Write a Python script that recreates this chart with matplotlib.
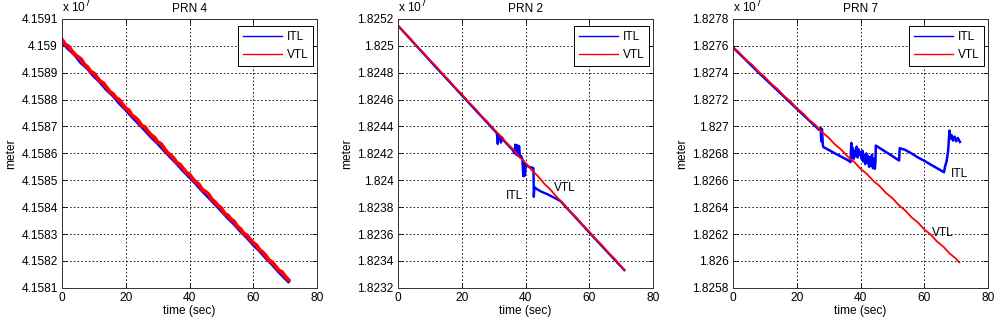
import numpy as np
import matplotlib
matplotlib.use("Agg")
import matplotlib.pyplot as plt
from matplotlib.ticker import FixedLocator, FuncFormatter

plt.rcParams['font.family'] = ['Liberation Sans', 'DejaVu Sans']
FS = 8.6

# ---- PRN 4 (values in units of 1e7 m) ----
prn4_vtl_t = list(range(72))
prn4_vtl = [4.159023, 4.159005, 4.158999, 4.158982, 4.158967, 4.158959, 4.158950, 4.158931,
            4.158921, 4.158903, 4.158898, 4.158882, 4.158868, 4.158861, 4.158845, 4.158829,
            4.158821, 4.158806, 4.158799, 4.158782, 4.158767, 4.158760, 4.158740, 4.158733,
            4.158721, 4.158703, 4.158698, 4.158681, 4.158668, 4.158659, 4.158642, 4.158636,
            4.158620, 4.158603, 4.158594, 4.158583, 4.158565, 4.158559, 4.158544, 4.158529,
            4.158522, 4.158505, 4.158493, 4.158484, 4.158465, 4.158458, 4.158448, 4.158429,
            4.158419, 4.158405, 4.158396, 4.158376, 4.158370, 4.158355, 4.158347, 4.158328,
            4.158319, 4.158302, 4.158296, 4.158280, 4.158267, 4.158259, 4.158241, 4.158232,
            4.158219, 4.158202, 4.158195, 4.158180, 4.158165, 4.158159, 4.158143, 4.158130]
prn4_itl_t = [0, 2, 4, 6, 8, 10, 12, 14, 16, 18, 20, 22, 24, 26, 28, 30, 32, 34, 36, 38,
              40, 42, 44, 46, 48, 50, 52, 54, 56, 58, 60, 62, 64, 66, 68, 70, 71]
prn4_itl = [4.159016, 4.158990, 4.158968, 4.158938, 4.158917, 4.158889, 4.158866, 4.158838,
            4.158816, 4.158788, 4.158764, 4.158737, 4.158713, 4.158688, 4.158662, 4.158639,
            4.158613, 4.158588, 4.158564, 4.158537, 4.158513, 4.158489, 4.158462, 4.158438,
            4.158413, 4.158388, 4.158362, 4.158339, 4.158312, 4.158289, 4.158262, 4.158239,
            4.158212, 4.158188, 4.158161, 4.158137, 4.158125]

# ---- PRN 2 ----
prn2_vtl_t = [0, 2, 4, 6, 8, 10, 12, 14, 16, 18, 20, 22, 24, 26, 28, 30, 32, 34, 36, 38,
              40, 42, 44, 46, 48, 50, 52, 54, 56, 58, 60, 62, 64, 66, 68, 70, 71]
prn2_vtl = [1.825152, 1.825097, 1.825051, 1.824994, 1.824948, 1.824893, 1.824846, 1.824790,
            1.824744, 1.824687, 1.824641, 1.824585, 1.824539, 1.824483, 1.824437, 1.824381,
            1.824335, 1.824279, 1.824233, 1.824176, 1.824130, 1.824074, 1.824028, 1.823972,
            1.823926, 1.823870, 1.823824, 1.823768, 1.823722, 1.823665, 1.823619, 1.823563,
            1.823517, 1.823461, 1.823415, 1.823359, 1.823336]
prn2_itl_t = [0, 4, 8, 12, 16, 20, 24, 28, 31.0, 31.3, 31.5, 32, 32.3, 32.6, 33, 34, 35, 36,
              36.5, 36.8, 37.1, 37.4, 37.7, 38.0, 38.3, 38.6, 39.0, 39.3, 39.5, 39.8, 40.1,
              41, 42, 42.5, 42.6, 42.8, 43.5, 45, 47, 49, 51, 52, 56, 60, 64, 68, 71]
prn2_itl = [1.825150, 1.825046, 1.824942, 1.824838, 1.824736, 1.824633, 1.824530, 1.824428,
            1.824350, 1.824270, 1.824340, 1.824318, 1.824280, 1.824320, 1.824300, 1.824275,
            1.824250, 1.824225, 1.824200, 1.824265, 1.824190, 1.824262, 1.824180, 1.824255,
            1.824170, 1.824180, 1.824160, 1.824030, 1.824140, 1.824035, 1.824120, 1.824100,
            1.824095, 1.824090, 1.823877, 1.823950, 1.823935, 1.823915, 1.823895, 1.823870,
            1.823845, 1.823818, 1.823716, 1.823612, 1.823510, 1.823408, 1.823332]

# ---- PRN 7 ----
prn7_vtl_t = [0, 2, 4, 6, 8, 10, 12, 14, 16, 18, 20, 22, 24, 26, 28, 30, 32, 34, 36, 38,
              40, 42, 44, 46, 48, 50, 52, 54, 56, 58, 60, 62, 64, 66, 68, 70, 71]
prn7_vtl = [1.827590, 1.827548, 1.827497, 1.827458, 1.827407, 1.827368, 1.827317, 1.827278,
            1.827227, 1.827187, 1.827136, 1.827097, 1.827046, 1.827007, 1.826956, 1.826917,
            1.826866, 1.826827, 1.826776, 1.826737, 1.826686, 1.826647, 1.826596, 1.826557,
            1.826506, 1.826467, 1.826416, 1.826376, 1.826325, 1.826286, 1.826235, 1.826196,
            1.826145, 1.826106, 1.826055, 1.826016, 1.825990]
prn7_itl_t = [0, 4, 8, 12, 16, 20, 24, 26, 27.0, 27.5, 27.7, 27.9, 28.2, 28.4, 30, 32, 34,
              36, 36.9, 37.1, 37.3, 37.6, 37.9, 38.2, 38.5, 38.8, 39.1, 39.4, 39.7, 40.0,
              40.3, 40.6, 40.9, 41.2, 41.5, 41.8, 42.1, 42.4, 42.7, 43.0, 43.3, 43.6, 43.9,
              44.2, 44.5, 44.7, 44.8, 46, 48, 50, 52.1, 52.3, 54, 56, 58, 60, 62, 64, 66.2,
              66.5, 67.0, 67.5, 67.9, 68.2, 68.6, 69.0, 69.5, 70.0, 70.5, 71.2]
prn7_itl = [1.827588, 1.827495, 1.827402, 1.827312, 1.827222, 1.827132, 1.827042, 1.826998,
            1.826975, 1.826990, 1.826890, 1.826980, 1.826860, 1.826846, 1.826826, 1.826800,
            1.826775, 1.826750, 1.826735, 1.826878, 1.826770, 1.826840, 1.826760, 1.826820,
            1.826780, 1.826850, 1.826770, 1.826830, 1.826790, 1.826810, 1.826760, 1.826820,
            1.826740, 1.826790, 1.826720, 1.826800, 1.826730, 1.826780, 1.826700, 1.826770,
            1.826710, 1.826790, 1.826690, 1.826760, 1.826685, 1.826740, 1.826858, 1.826840,
            1.826810, 1.826780, 1.826747, 1.826839, 1.826826, 1.826800, 1.826770, 1.826745,
            1.826717, 1.826690, 1.826660, 1.826700, 1.826740, 1.826820, 1.826970, 1.826910,
            1.826935, 1.826895, 1.826925, 1.826890, 1.826915, 1.826885]

panels = [
    dict(title='PRN 4', itl_t=prn4_itl_t, itl=prn4_itl, vtl_t=prn4_vtl_t, vtl=prn4_vtl,
         ylim=(4.1581, 4.1591), ystep=0.0001, lw_itl=2.8, lw_vtl=2.8, notes=[]),
    dict(title='PRN 2', itl_t=prn2_itl_t, itl=prn2_itl, vtl_t=prn2_vtl_t, vtl=prn2_vtl,
         ylim=(1.8232, 1.8252), ystep=0.0002, lw_itl=1.7, lw_vtl=1.3,
         notes=[('ITL', 36.7, 1.82388), ('VTL', 52.4, 1.82394)]),
    dict(title='PRN 7', itl_t=prn7_itl_t, itl=prn7_itl, vtl_t=prn7_vtl_t, vtl=prn7_vtl,
         ylim=(1.8258, 1.8278), ystep=0.0002, lw_itl=1.8, lw_vtl=1.3,
         notes=[('ITL', 71.2, 1.82665), ('VTL', 65.8, 1.82621)]),
]

fig = plt.figure(figsize=(10, 3.26), dpi=100)
lefts = [0.062, 0.398, 0.733]

for left, p in zip(lefts, panels):
    ax = fig.add_axes([left, 0.117, 0.255, 0.825])
    ax.plot(p['itl_t'], p['itl'], color='b', lw=p['lw_itl'], label='ITL')
    ax.plot(p['vtl_t'], p['vtl'], color='r', lw=p['lw_vtl'], label='VTL')

    lo, hi = p['ylim']
    nt = int(round((hi - lo) / p['ystep']))
    yt = [lo + i * p['ystep'] for i in range(nt + 1)]
    ax.set_xlim(0, 80)
    ax.set_ylim(lo, hi)
    ax.xaxis.set_major_locator(FixedLocator([0, 20, 40, 60, 80]))
    ax.yaxis.set_major_locator(FixedLocator(yt))
    ax.yaxis.set_major_formatter(FuncFormatter(lambda v, pos: '%g' % round(v, 5)))
    ax.grid(True, color='black', linestyle=(0, (2, 2.5)), lw=0.6)
    ax.tick_params(direction='in', top=True, right=True, length=3.5, width=0.6,
                   labelsize=FS, pad=3)
    for s in ax.spines.values():
        s.set_linewidth(0.7)
        s.set_color('#333333')

    ax.set_xlabel('time (sec)', fontsize=FS, labelpad=1)
    ax.set_ylabel('meter', fontsize=FS, labelpad=3)
    ax.set_title(p['title'], fontsize=FS, pad=5)
    ax.text(0, 1.012, r'x 10$^7$', transform=ax.transAxes, ha='left', va='bottom',
            fontsize=FS)

    for txt, tx, ty in p['notes']:
        ax.text(tx, ty, txt, ha='center', va='center', fontsize=FS)

    leg = ax.legend(loc='upper right', bbox_to_anchor=(0.985, 0.972), fontsize=FS,
                    handlelength=3.3, handletextpad=0.35, borderpad=0.4,
                    labelspacing=0.5, fancybox=False, framealpha=1,
                    edgecolor='black', borderaxespad=0)
    leg.get_frame().set_linewidth(0.7)
    for line in leg.get_lines():
        line.set_linewidth(1.0)

fig.savefig('out.png', dpi=100)
